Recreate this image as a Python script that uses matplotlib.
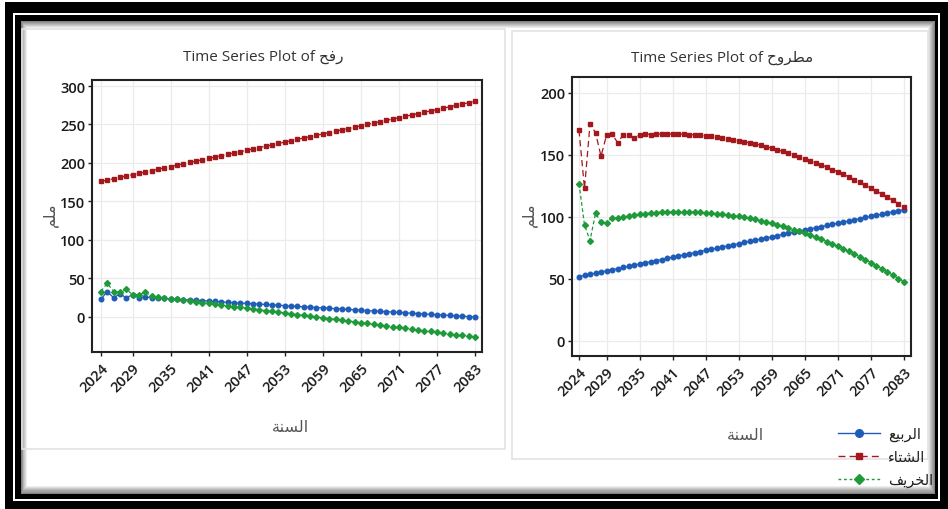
import numpy as np
import matplotlib
matplotlib.use("Agg")
import matplotlib.pyplot as plt
from matplotlib.patches import Rectangle
from matplotlib.lines import Line2D

plt.rcParams['font.family'] = ['Open Sans', 'DejaVu Sans']

# Arabic strings written in presentation forms (visual order) so they render joined
RAFAH = "\uFEA2\uFED3\uFEAD"                       # رفح
MATROUH = "\uFEA1\uFEED\uFEAE\uFEC4\uFEE3"         # مطروح
MM = "\uFEE2\uFEE0\uFEE3"                          # ملم
YEAR = "\uFE94\uFEE8\uFEB4\uFEDF\uFE8D"            # السنة
SPRING = "\uFECA\uFEF4\uFE91\uFEAE\uFEDF\uFE8D"    # الربيع
WINTER = "\uFE80\uFE8E\uFE98\uFEB8\uFEDF\uFE8D"    # الشتاء
AUTUMN = "\uFED2\uFEF3\uFEAE\uFEA8\uFEDF\uFE8D"    # الخريف

years = np.arange(2024, 2084)
xticks = [2024, 2029, 2035, 2041, 2047, 2053, 2059, 2065, 2071, 2077, 2083]

# ---- Rafah ----
rafah_spring = [23, 33, 25, 30, 25, 29, 25, 26, 25.0, 24.5, 24.0, 23.5, 23.0, 22.5, 22.1, 21.6,
                21.1, 20.6, 20.1, 19.6, 19.1, 18.6, 18.1, 17.6, 17.2, 16.7, 16.2, 15.7, 15.2, 14.7,
                14.2, 13.7, 13.2, 12.7, 12.3, 11.8, 11.3, 10.8, 10.3, 9.8, 9.3, 8.8, 8.3, 7.8,
                7.4, 6.9, 6.4, 5.9, 5.4, 4.9, 4.4, 3.9, 3.4, 2.9, 2.5, 2.0, 1.5, 1.0, 0.5, 0.0]
rafah_winter = [176.0, 177.8, 179.5, 181.3, 183.1, 184.8, 186.6, 188.3, 190.1, 191.9, 193.6, 195.4,
                197.2, 198.9, 200.7, 202.4, 204.2, 206.0, 207.7, 209.5, 211.3, 213.0, 214.8, 216.5,
                218.3, 220.1, 221.8, 223.6, 225.4, 227.1, 228.9, 230.7, 232.4, 234.2, 235.9, 237.7,
                239.5, 241.2, 243.0, 244.8, 246.5, 248.3, 250.0, 251.8, 253.6, 255.3, 257.1, 258.9,
                260.6, 262.4, 264.2, 265.9, 267.7, 269.4, 271.2, 273.0, 274.7, 276.5, 278.3, 280.0]
rafah_autumn = [33, 44, 33, 32, 36, 29, 29, 32, 27.0, 26.0, 24.9, 23.9, 22.8, 21.8, 20.8, 19.7,
                18.7, 17.6, 16.6, 15.6, 14.5, 13.5, 12.4, 11.4, 10.4, 9.3, 8.3, 7.2, 6.2, 5.2,
                4.1, 3.1, 2.0, 1.0, 0.0, -1.1, -2.1, -3.2, -4.2, -5.2, -6.3, -7.3, -8.4, -9.4,
                -10.4, -11.5, -12.5, -13.6, -14.6, -15.6, -16.7, -17.7, -18.8, -19.8, -20.8,
                -21.9, -22.9, -24.0, -25.0, -26.0]

# ---- Matrouh ----
matrouh_spring = [52.0, 52.9, 53.8, 54.7, 55.7, 56.6, 57.5, 58.4, 59.3, 60.2, 61.2, 62.1, 63.0, 63.9,
                  64.8, 65.7, 66.6, 67.6, 68.5, 69.4, 70.3, 71.2, 72.1, 73.1, 74.0, 74.9, 75.8, 76.7,
                  77.6, 78.5, 79.5, 80.4, 81.3, 82.2, 83.1, 84.0, 84.9, 85.9, 86.8, 87.7, 88.6, 89.5,
                  90.4, 91.4, 92.3, 93.2, 94.1, 95.0, 95.9, 96.8, 97.8, 98.7, 99.6, 100.5, 101.4,
                  102.3, 103.3, 104.2, 105.1, 106.0]
matrouh_winter = [170, 123, 175, 168, 149, 166, 167, 160, 166, 166, 164, 166, 167, 166.5,
                  166.9, 167.0, 167.0, 167.0, 166.9, 166.7, 166.5, 166.2, 165.9, 165.4, 165.0, 164.4,
                  163.8, 163.1, 162.4, 161.6, 160.7, 159.8, 158.8, 157.8, 156.7, 155.5, 154.2, 152.9,
                  151.6, 150.1, 148.6, 147.1, 145.4, 143.7, 142.0, 140.2, 138.3, 136.3, 134.3, 132.3,
                  130.1, 127.9, 125.7, 123.3, 120.9, 118.5, 116.0, 113.4, 110.7, 108.0]
matrouh_autumn = [127, 93.5, 81, 103, 96, 95, 99.5, 99, 100, 101, 101.6, 102.3, 102.8, 103.2,
                  103.6, 103.9, 104.1, 104.2, 104.2, 104.1, 104.0, 103.9, 103.7, 103.4, 103.1, 102.7,
                  102.3, 101.7, 101.1, 100.5, 99.7, 98.9, 98.0, 97.1, 96.1, 95.0, 93.8, 92.6, 91.3,
                  89.9, 88.5, 86.9, 85.4, 83.7, 82.0, 80.2, 78.3, 76.4, 74.4, 72.3, 70.1, 67.9, 65.6,
                  63.3, 60.8, 58.3, 55.7, 53.1, 50.4, 47.6]

BLUE = '#1f5cb8'
RED = '#a3181c'
GREEN = '#1f9a3a'

W, H = 948, 510
fig = plt.figure(figsize=(W / 100, H / 100), dpi=100)


def box(x0, y0, x1, y1, **kw):
    # rectangle given in pixel coords measured from the top-left corner
    r = Rectangle((x0 / W, 1 - y1 / H), (x1 - x0) / W, (y1 - y0) / H,
                  transform=fig.transFigure, **kw)
    fig.add_artist(r)
    return r


# picture frame: black band, thin white gap, inner black band and a soft shadow
box(5, 3, 948, 510, facecolor='black', edgecolor='none', zorder=-10)
box(13, 14, 940, 502, facecolor='white', edgecolor='none', zorder=-9)
box(15, 16, 938, 500, facecolor='black', edgecolor='none', zorder=-8)
steps = 8
for i in range(steps):
    g = 0.45 + 0.55 * (i + 1) / steps
    box(21 + i * 0.8, 22 + i * 1.0, 935 - i * 1.0, 495 - i * 1.2,
        facecolor=(g, g, g), edgecolor='none', zorder=-7 + i * 0.01)

# panel outlines
box(22, 30, 505, 450, facecolor='none', edgecolor='#e3e3e3', lw=1.2, zorder=-5)
box(512, 32, 928, 460, facecolor='none', edgecolor='#e3e3e3', lw=1.2, zorder=-5)


def make_axes(x0, y0, x1, y1):
    return fig.add_axes([x0 / W, 1 - y1 / H, (x1 - x0) / W, (y1 - y0) / H])


def draw_panel(ax, spring, winter, autumn, xlim, ylim, yticks):
    ax.plot(years, spring, color=BLUE, lw=0.9, ls='-', marker='o', ms=3.3, zorder=3)
    ax.plot(years, winter, color=RED, lw=0.9, ls=(0, (5, 3)), marker='s', ms=3.3, zorder=3)
    ax.plot(years, autumn, color=GREEN, lw=0.9, ls=(0, (3, 2)), marker='D', ms=3.0, zorder=3)
    ax.set_xlim(*xlim)
    ax.set_ylim(*ylim)
    ax.set_xticks(xticks)
    ax.set_yticks(yticks)
    ax.grid(True, color='#ebebeb', lw=0.9)
    ax.set_axisbelow(True)
    for s in ax.spines.values():
        s.set_color('#222222')
        s.set_linewidth(1.5)
    ax.tick_params(length=3, width=1, color='#222222', labelsize=10.5, labelcolor='#1a1a1a')
    ax.tick_params(axis='y', pad=2)
    for lab in ax.get_xticklabels():
        lab.set_rotation(45)
        lab.set_ha('right')
        lab.set_va('top')
        lab.set_rotation_mode('anchor')
        lab.set_fontweight('semibold')
    for lab in ax.get_yticklabels():
        lab.set_fontweight('semibold')


ax1 = make_axes(92, 81, 482, 353)
draw_panel(ax1, rafah_spring, rafah_winter, rafah_autumn,
           (2022.6, 2084.1), (-45.5, 307.8), [0, 50, 100, 150, 200, 250, 300])

ax2 = make_axes(572, 78, 911, 357)
draw_panel(ax2, matrouh_spring, matrouh_winter, matrouh_autumn,
           (2022.73, 2084.27), (-12.1, 212.9), [0, 50, 100, 150, 200])

tc = '#333333'
fig.text(263 / W, 1 - 57 / H, "Time Series Plot of " + RAFAH, ha='center', va='center',
         fontsize=11, color=tc)
fig.text(722 / W, 1 - 58 / H, "Time Series Plot of " + MATROUH, ha='center', va='center',
         fontsize=11, color=tc)
fig.text(290 / W, 1 - 428 / H, YEAR, ha='center', va='center', fontsize=11.5, color='#555555')
fig.text(745 / W, 1 - 436 / H, YEAR, ha='center', va='center', fontsize=11.5, color='#555555')
fig.text(50 / W, 1 - 215 / H, MM, ha='center', va='center', rotation=90, fontsize=11.5,
         color='#555555')
fig.text(529 / W, 1 - 215 / H, MM, ha='center', va='center', rotation=90, fontsize=11.5,
         color='#555555')

handles = [
    Line2D([], [], color=BLUE, lw=1, ls='-', marker='o', ms=5.5),
    Line2D([], [], color=RED, lw=1, ls=(0, (5, 3)), marker='s', ms=5),
    Line2D([], [], color=GREEN, lw=1, ls=(0, (2, 2)), marker='D', ms=5),
]
fig.legend(handles, [SPRING, WINTER, AUTUMN], loc='upper left',
           bbox_to_anchor=(828 / W, 1 - 418 / H), frameon=False, fontsize=10.5,
           handlelength=2.9, handletextpad=0.5, labelspacing=0.55, borderpad=0.2,
           labelcolor='#222222')

fig.savefig('out.png', dpi=100)
